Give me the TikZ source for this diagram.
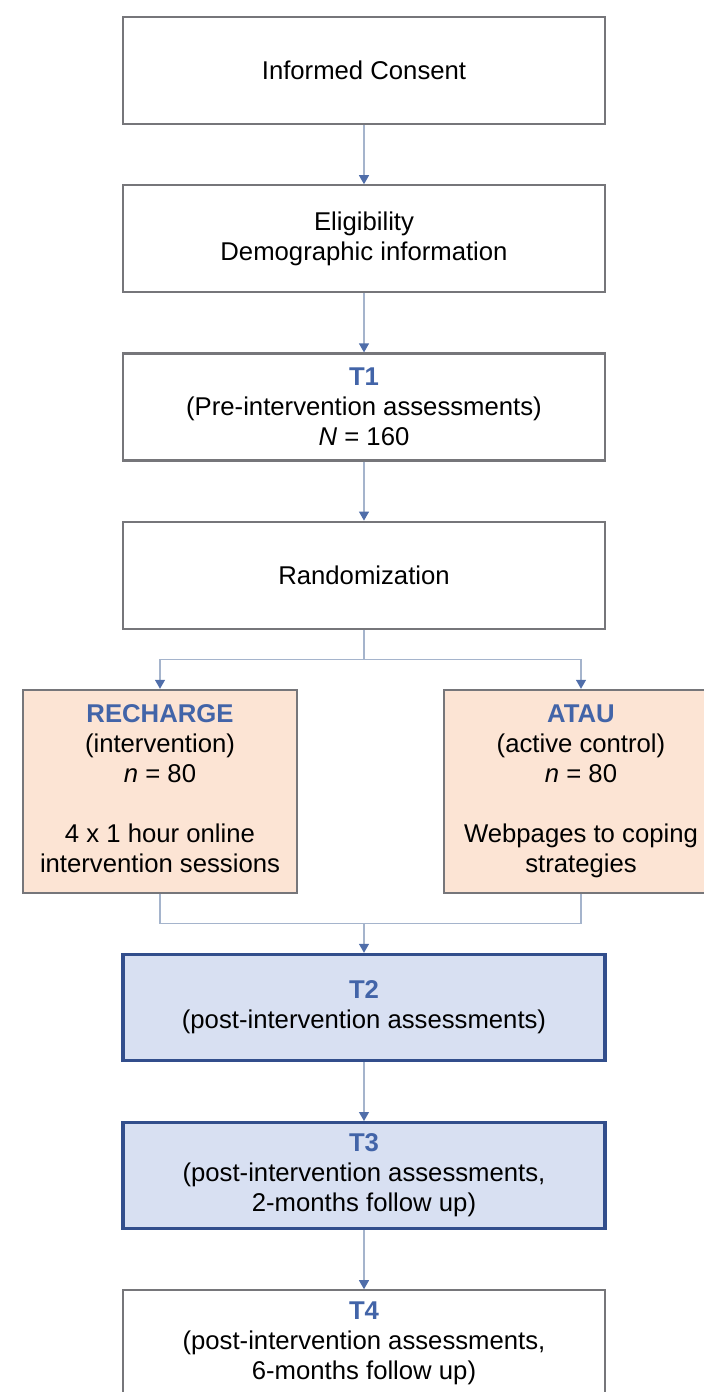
\documentclass[tikz,border=0pt]{standalone}
\usepackage{fontspec}
\setmainfont{Liberation Sans}
\usepackage{xcolor}
\usepackage{tikz}
\usetikzlibrary{arrows.meta,positioning,calc}

\definecolor{boxgray}{RGB}{118,118,122}
\definecolor{linegray}{RGB}{165,180,204}
\definecolor{tipblue}{RGB}{80,110,170}
\definecolor{titleblue}{RGB}{66,100,168}
\definecolor{peach}{RGB}{252,228,212}
\definecolor{paleblue}{RGB}{216,224,242}
\definecolor{deepblue}{RGB}{50,78,140}

\newcommand{\ttl}[1]{\textcolor{titleblue}{\textbf{#1}}}

\begin{document}
\begin{tikzpicture}[node distance=29.5pt,
    every node/.style={font=\fontsize{12.85}{15}\selectfont, align=center},
    stage/.style={draw=boxgray, line width=1.1pt, fill=white, minimum width=241pt, minimum height=53.5pt},
    arm/.style={draw=boxgray, line width=1.1pt, fill=peach, minimum width=137pt, minimum height=101.4pt},
    followup/.style={draw=deepblue, line width=1.6pt, fill=paleblue, minimum width=241pt, minimum height=53pt},
    link/.style={draw=linegray, line width=0.6pt},
    linkarrow/.style={link, -{Triangle[width=5pt, length=4.5pt, color=tipblue]}}]
  \useasboundingbox (0,0) rectangle (351.5pt,-696pt);
  \node[stage, anchor=north] (consent) at (182pt,-8pt) {Informed Consent};
  \node[stage, below=of consent] (elig) {Eligibility\\Demographic information};
  \node[stage, below=of elig] (t1)
       {\ttl{T1}\\(Pre-intervention assessments)\\\textit{N} = 160};
  \node[stage, below=of t1] (rnd) {Randomization};
  \node[arm, below=of rnd, xshift=-102pt] (recharge)
       {\strut\ttl{RECHARGE}\\(intervention)\\\textit{n} = 80\\[15pt]4 x 1 hour online\\intervention sessions\strut};
  \node[arm, below=of rnd, xshift=108.5pt] (atau)
       {\strut\ttl{ATAU}\\(active control)\\\textit{n} = 80\\[15pt]Webpages to coping\\strategies\strut};
  \node[followup, below=of $(rnd|-recharge.south)$] (t2)
       {\ttl{T2}\\(post-intervention assessments)};
  \node[followup, below=of t2] (t3)
       {\ttl{T3}\\(post-intervention assessments,\\2-months follow up)};
  \node[stage, below=of t3] (t4)
       {\ttl{T4}\\(post-intervention assessments,\\6-months follow up)};
  % split and join points
  \coordinate (split) at ($(rnd.south)+(0,-14.75pt)$);
  \coordinate (join) at ($(t2.north)+(0,14.75pt)$);
  \draw[linkarrow] (consent) -- (elig);
  \draw[linkarrow] (elig) -- (t1);
  \draw[linkarrow] (t1) -- (rnd);
  \draw[link] (rnd) -- (split);
  \draw[linkarrow] (split) -| (recharge);
  \draw[linkarrow] (split) -| (atau);
  \draw[link] (recharge) |- (join);
  \draw[link] (atau) |- (join);
  \draw[linkarrow] (join) -- (t2);
  \draw[linkarrow] (t2) -- (t3);
  \draw[linkarrow] (t3) -- (t4);
\end{tikzpicture}
\end{document}
